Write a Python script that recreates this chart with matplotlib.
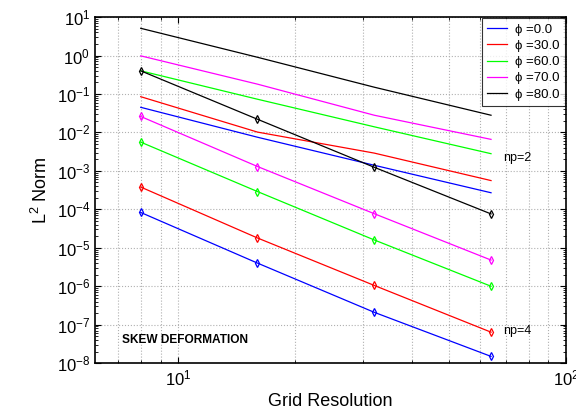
import numpy as np
import matplotlib.pyplot as plt
from matplotlib.ticker import LogLocator, NullFormatter

plt.rcParams['font.family'] = ['Liberation Sans', 'DejaVu Sans']
plt.rcParams['mathtext.fontset'] = 'custom'
plt.rcParams['mathtext.rm'] = 'Liberation Sans'

grid_res = [8, 16, 32, 64]
angles = ['0.0', '30.0', '60.0', '70.0', '80.0']
colors = ['#0000ff', '#ff0000', '#00ff00', '#ff00ff', '#000000']

# np=2 errors
err_np2 = [
    [4.5e-2, 7.5e-3, 1.4e-3, 2.7e-4],
    [8.5e-2, 1.02e-2, 2.9e-3, 5.6e-4],
    [4.0e-1, 7.3e-2, 1.4e-2, 2.8e-3],
    [9.8e-1, 1.8e-1, 2.8e-2, 6.6e-3],
    [5.1e0, 9.0e-1, 1.5e-1, 2.8e-2],
]

# np=4 errors
err_np4 = [
    [8.3e-5, 4.0e-6, 2.1e-7, 1.5e-8],
    [3.8e-4, 1.8e-5, 1.05e-6, 6.4e-8],
    [5.6e-3, 2.9e-4, 1.6e-5, 1.0e-6],
    [2.6e-2, 1.3e-3, 7.7e-5, 4.8e-6],
    [4.0e-1, 2.2e-2, 1.24e-3, 7.6e-5],
]

fig = plt.figure(figsize=(5.76, 4.16), dpi=100)
ax = fig.add_axes([0.165, 0.127, 0.818, 0.832])

for a, c, e2, e4 in zip(angles, colors, err_np2, err_np4):
    ax.loglog(grid_res, e2, color=c, lw=0.9, label='ϕ =' + a)
    ax.loglog(grid_res, e4, color=c, lw=0.9, marker='d', ms=3.8, mfc='none', mew=0.9)

ax.set_xlim(6.1, 100)
ax.set_ylim(1e-8, 10)
ax.yaxis.set_major_locator(LogLocator(base=10, numticks=20))
ax.yaxis.set_minor_locator(LogLocator(base=10, subs=np.arange(2, 10), numticks=20))
ax.yaxis.set_minor_formatter(NullFormatter())

ax.grid(True, which='major', ls=':', color='#b0b0b0', lw=0.8)
ax.grid(True, which='minor', axis='x', ls=':', color='#b0b0b0', lw=0.8)
ax.tick_params(which='both', direction='in', top=True, right=True, labelsize=12)
ax.tick_params(which='major', length=4)
ax.tick_params(which='minor', length=2)
for s in ax.spines.values():
    s.set_linewidth(1.2)

ax.set_xlabel('Grid Resolution', fontsize=13)
ax.set_ylabel('L$^2$ Norm', fontsize=13)

ax.text(68.9, 2.2e-3, 'np=2', fontsize=9, va='center')
ax.text(68.9, 7e-8, 'np=4', fontsize=9, va='center')
ax.text(7.15, 3.9e-8, 'SKEW DEFORMATION', fontsize=8.6, fontweight='bold', va='center')

leg = ax.legend(loc='upper right', fontsize=9.5, frameon=True, fancybox=False,
                edgecolor='k', borderaxespad=0.1, handlelength=1.5, labelspacing=0.3,
                handletextpad=0.6)
leg.get_frame().set_linewidth(0.8)

fig.savefig('out.png', dpi=100)
